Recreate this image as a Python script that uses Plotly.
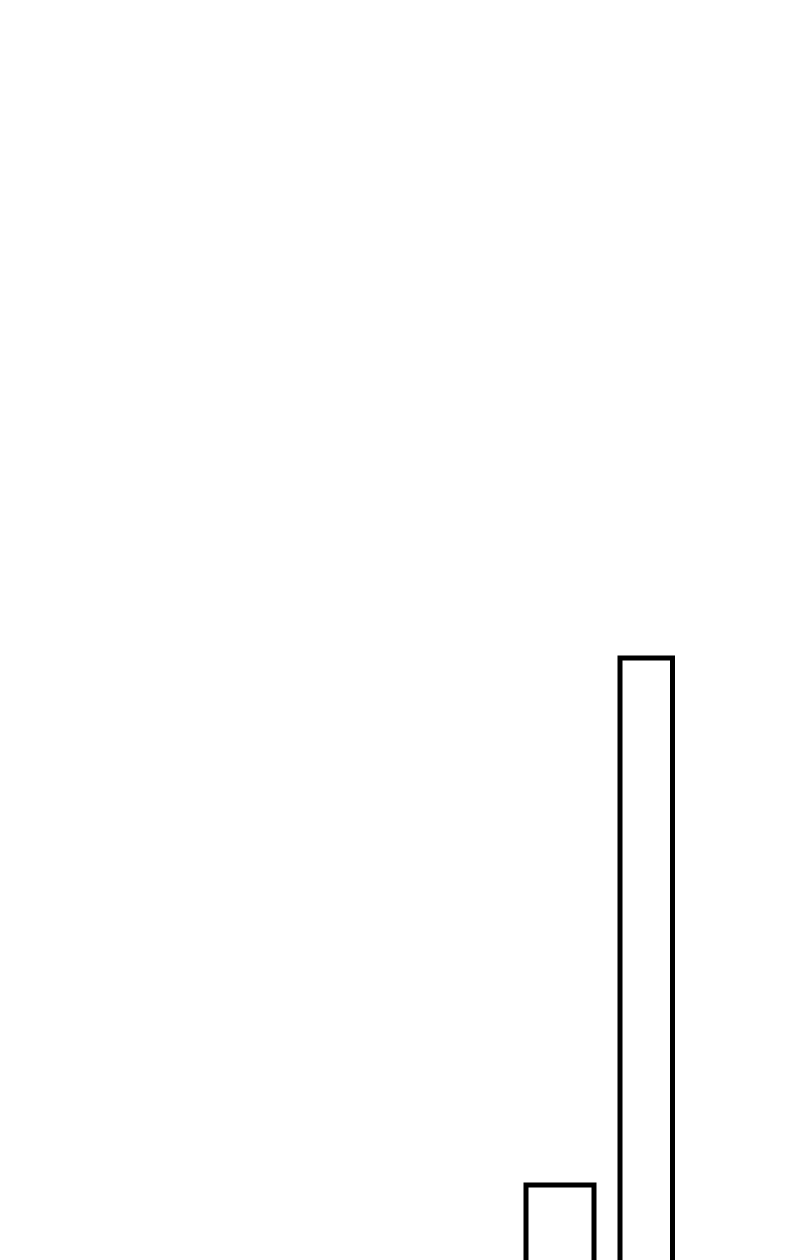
import plotly.graph_objects as go

# Data
categories = ["A", "B"]
bar_centers = [552, 638.25]
bar_widths = [68, 52.5]
values = [93, 620]

fig = go.Figure()
fig.add_trace(go.Bar(
    x=bar_centers,
    y=values,
    width=bar_widths,
    marker=dict(color="white", line=dict(color="black", width=5)),
    hoverinfo="skip",
    showlegend=False,
))

fig.update_layout(
    width=800,
    height=1260,
    margin=dict(l=0, r=0, t=0, b=0),
    paper_bgcolor="white",
    plot_bgcolor="white",
    xaxis=dict(range=[0, 800], visible=False, showgrid=False, zeroline=False),
    yaxis=dict(range=[10, 1270], visible=False, showgrid=False, zeroline=False),
)

fig.write_html("out.html")
